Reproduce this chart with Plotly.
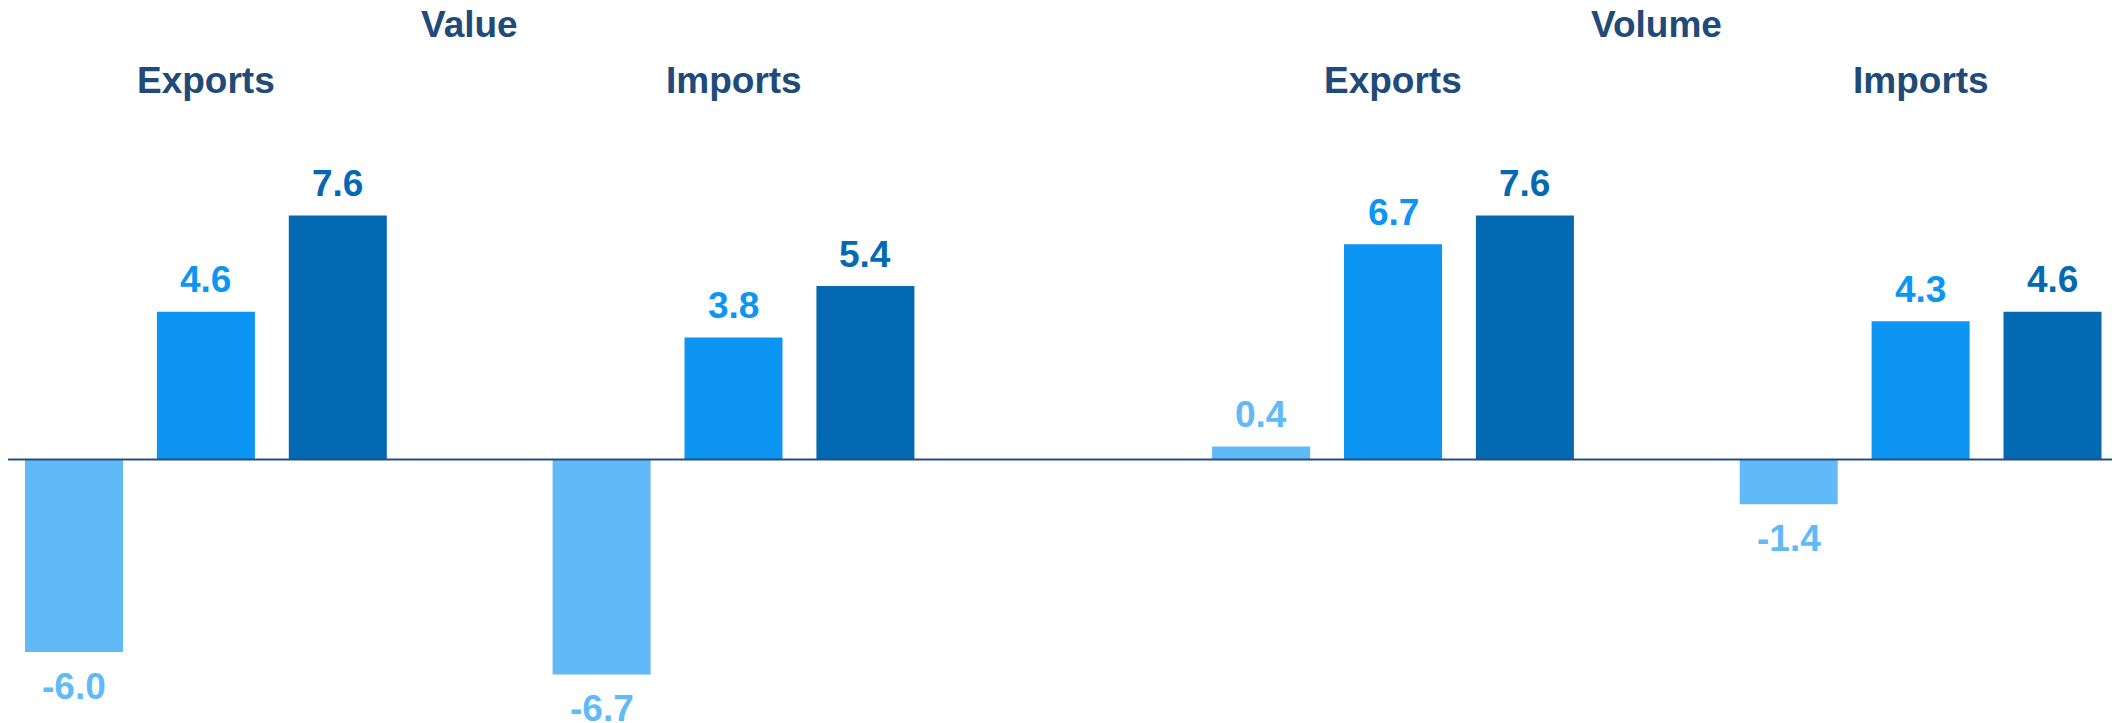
import plotly.graph_objects as go

# Panels and trade flows, in drawing order
panels = ["Value", "Volume"]
flows = ["Exports", "Imports"]

# Three series per flow (one value per panel/flow pair, in the order above)
series_a = [-6.0, -6.7, 0.4, -1.4]
series_b = [4.6, 3.8, 6.7, 4.3]
series_c = [7.6, 5.4, 7.6, 4.6]

colors = ["#62B9F8", "#0C95F3", "#0469B3"]
title_color = "#204A78"
axis_color = "#24507F"
font_family = "Liberation Sans, Arial, Helvetica, sans-serif"

W, H = 2112, 723

# Slot layout: 3 bars per flow, one empty slot between flows,
# two empty slots between panels.
group_starts = []
for p_i in range(len(panels)):
    for f_i in range(len(flows)):
        group_starts.append(p_i * 9 + f_i * 4)

all_series = [series_a, series_b, series_c]

fig = go.Figure()
annotations = []
for s_i, (vals, col) in enumerate(zip(all_series, colors)):
    xs = [g + s_i for g in group_starts]
    fig.add_trace(go.Bar(
        x=xs, y=vals, width=0.743,
        marker=dict(color=col, line=dict(width=0)),
        showlegend=False, hoverinfo="skip",
    ))
    for x, v in zip(xs, vals):
        annotations.append(dict(
            x=x, y=v, xref="x", yref="y",
            text=f"<b>{v:.1f}</b>", showarrow=False,
            yanchor="middle", yshift=32 if v >= 0 else -34,
            font=dict(size=37, color=col, family=font_family),
        ))

# Flow headings over each group, panel headings over each panel
for p_i, panel in enumerate(panels):
    annotations.append(dict(
        x=p_i * 9 + 3, y=1 - 25 / H, xref="x", yref="paper",
        text=f"<b>{panel}</b>", showarrow=False, yanchor="middle",
        font=dict(size=37, color=title_color, family=font_family),
    ))
    for f_i, flow in enumerate(flows):
        annotations.append(dict(
            x=p_i * 9 + f_i * 4 + 1, y=1 - 80.5 / H, xref="x", yref="paper",
            text=f"<b>{flow}</b>", showarrow=False, yanchor="middle",
            font=dict(size=37, color=title_color, family=font_family),
        ))

x_range = [-0.561, 15.451]
y_range = [-8.21, 14.31]

fig.add_shape(type="line", xref="x", yref="y",
              x0=-0.5, x1=x_range[1], y0=0, y1=0,
              line=dict(color=axis_color, width=2), layer="above")

fig.update_layout(
    width=W, height=H,
    margin=dict(l=0, r=0, t=0, b=0),
    paper_bgcolor="white", plot_bgcolor="white",
    barmode="overlay",
    annotations=annotations,
    xaxis=dict(range=x_range, visible=False, showgrid=False, zeroline=False),
    yaxis=dict(range=y_range, visible=False, showgrid=False, zeroline=False),
)

fig.write_html("out.html", config={"displayModeBar": False})
